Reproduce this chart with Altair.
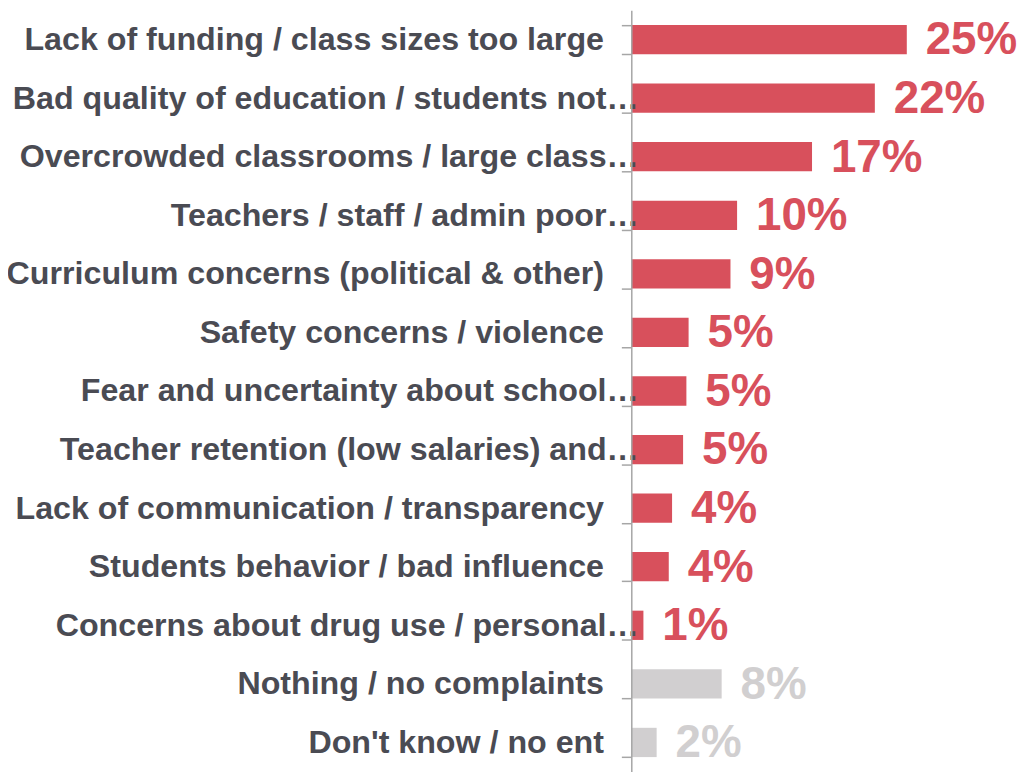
import altair as alt
import pandas as pd

categories = [
    "Lack of funding / class sizes too large",
    "Bad quality of education / students not…",
    "Overcrowded classrooms / large class…",
    "Teachers / staff / admin poor…",
    "Curriculum concerns (political & other)",
    "Safety concerns / violence",
    "Fear and uncertainty about school…",
    "Teacher retention (low salaries) and…",
    "Lack of communication / transparency",
    "Students behavior / bad influence",
    "Concerns about drug use / personal…",
    "Nothing / no complaints",
    "Don't know / no ent",
]
values = [25.0, 22.1, 16.4, 9.6, 9.0, 5.2, 5.0, 4.7, 3.7, 3.4, 1.1, 8.2, 2.3]
value_labels = ["25%", "22%", "17%", "10%", "9%", "5%", "5%", "5%", "4%", "4%", "1%", "8%", "2%"]
groups = ["issue"] * 11 + ["none"] * 2

df = pd.DataFrame({
    "category": categories,
    "value": values,
    "label": value_labels,
    "group": groups,
})

RED = "#d8505c"
GRAY = "#d1cfd0"

color_scale = alt.Scale(domain=["issue", "none"], range=[RED, GRAY])

y_enc = alt.Y(
    "category:N",
    sort=categories,
    title=None,
    scale=alt.Scale(paddingInner=0.5, paddingOuter=0.25),
    axis=alt.Axis(
        labelFont="Liberation Sans",
        labelFontSize=32.4,
        labelFontWeight="bold",
        labelColor="#4a4b53",
        labelLimit=800,
        labelPadding={
            "condition": {"test": "indexof(datum.label, '\u2026') >= 0", "value": -17},
            "value": 18,
        },
        tickSize=10,
        tickBand="extent",
        tickColor="#a6a6a6",
        tickWidth=1.5,
        domainColor="#a6a6a6",
        domainWidth=1.5,
        grid=False,
        zindex=1,
    ),
)

x_enc = alt.X(
    "value:Q",
    title=None,
    axis=None,
    scale=alt.Scale(domain=[0, 35], nice=False),
)

bars = alt.Chart(df).mark_bar().encode(
    y=y_enc,
    x=x_enc,
    color=alt.Color("group:N", scale=color_scale, legend=None),
)

texts = alt.Chart(df).mark_text(
    align="left",
    baseline="middle",
    dx=19,
    dy=1,
    font="Liberation Sans",
    fontSize=46,
    fontWeight="bold",
).encode(
    y=alt.Y("category:N", sort=categories),
    x=alt.X("value:Q"),
    text="label:N",
    color=alt.Color("group:N", scale=color_scale, legend=None),
)

chart = (bars + texts).properties(
    width=388,
    height=766,
    autosize=alt.AutoSizeParams(type="none"),
    padding={"left": 627, "top": 0, "right": 0, "bottom": 0},
).configure_view(stroke=None)

chart.save("out.html", embed_options={"renderer": "svg", "actions": False})
